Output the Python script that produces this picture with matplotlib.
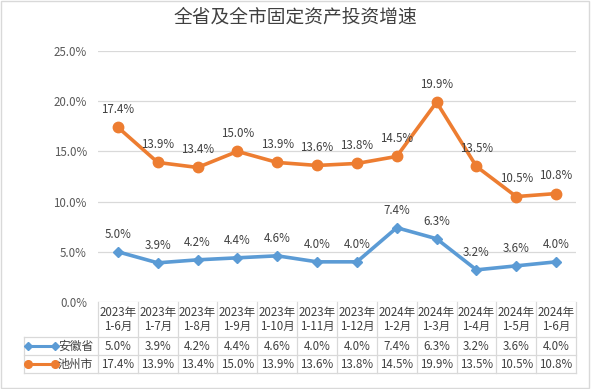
import matplotlib.pyplot as plt
from matplotlib.patches import Rectangle
from matplotlib.lines import Line2D

plt.rcParams['font.family'] = ['Noto Sans CJK SC', 'DejaVu Sans']

periods = ['2023年\n1-6月', '2023年\n1-7月', '2023年\n1-8月', '2023年\n1-9月',
           '2023年\n1-10月', '2023年\n1-11月', '2023年\n1-12月', '2024年\n1-2月',
           '2024年\n1-3月', '2024年\n1-4月', '2024年\n1-5月', '2024年\n1-6月']
anhui = [5.0, 3.9, 4.2, 4.4, 4.6, 4.0, 4.0, 7.4, 6.3, 3.2, 3.6, 4.0]
chizhou = [17.4, 13.9, 13.4, 15.0, 13.9, 13.6, 13.8, 14.5, 19.9, 13.5, 10.5, 10.8]
series_names = ['安徽省', '池州市']
yticks = [0, 5, 10, 15, 20, 25]

blue = '#5B9BD5'
orange = '#ED7D31'
grid_c = '#D9D9D9'
txt_c = '#404040'

W, H = 591, 389
fig = plt.figure(figsize=(W / 100, H / 100), dpi=100)
fig.patches.append(Rectangle((0.002, 0.002), 0.995, 0.995, transform=fig.transFigure,
                             fill=False, edgecolor='#D9D9D9', linewidth=1))

left, right, y0, y25 = 98, 576, 302, 51
ax = fig.add_axes([left / W, (H - y0) / H, (right - left) / W, (y0 - y25) / H])
ax_w, ax_h = right - left, y0 - y25

x = list(range(len(periods)))
ax.plot(x, anhui, color=blue, lw=2.6, marker='D', ms=5.5, zorder=3)
ax.plot(x, chizhou, color=orange, lw=2.6, marker='o', ms=7.5, zorder=3)

for i in x:
    ax.annotate(f'{anhui[i]:.1f}%', (i, anhui[i]), xytext=(0, 8), textcoords='offset points',
                ha='center', va='bottom', fontsize=8.3, color=txt_c)
    ax.annotate(f'{chizhou[i]:.1f}%', (i, chizhou[i]), xytext=(0, 8), textcoords='offset points',
                ha='center', va='bottom', fontsize=8.3, color=txt_c)

ax.set_xlim(-0.5, len(periods) - 0.5)
ax.set_ylim(0, 25)
ax.set_yticks(yticks)
ax.set_yticklabels([f'{v:.1f}%' for v in yticks], fontsize=8.3, color='#595959')
ax.set_xticks([])
ax.tick_params(axis='y', length=0, pad=8)
ax.grid(axis='y', color=grid_c, lw=0.9)
ax.set_axisbelow(True)
for s in ax.spines.values():
    s.set_visible(False)

# data table below the plot
def fy(py):
    return -(py - y0) / ax_h

def fx(px):
    return (px - left) / ax_w

tb = ax.get_xaxis_transform()
ta = ax.transAxes
rows_y = [fy(302), fy(337), fy(355), fy(373)]
lab_left = fx(24)

for i in range(len(periods) + 1):
    ax.add_line(Line2D([i - 0.5, i - 0.5], [rows_y[0], rows_y[3]], transform=tb,
                       color=grid_c, lw=0.9, clip_on=False))
for yy in rows_y[1:]:
    ax.add_line(Line2D([lab_left, 1], [yy, yy], transform=ta, color=grid_c, lw=0.9, clip_on=False))
ax.add_line(Line2D([lab_left, lab_left], [rows_y[1], rows_y[3]], transform=ta,
                   color=grid_c, lw=0.9, clip_on=False))

for i in x:
    ax.text(i, (rows_y[0] + rows_y[1]) / 2, periods[i], transform=tb, ha='center', va='center',
            fontsize=8.3, color=txt_c, linespacing=1.1)
    ax.text(i, (rows_y[1] + rows_y[2]) / 2, f'{anhui[i]:.1f}%', transform=tb, ha='center',
            va='center', fontsize=8.3, color=txt_c)
    ax.text(i, (rows_y[2] + rows_y[3]) / 2, f'{chizhou[i]:.1f}%', transform=tb, ha='center',
            va='center', fontsize=8.3, color=txt_c)

for k, (name, col, mk, ms) in enumerate(zip(series_names, [blue, orange], ['D', 'o'], [3.8, 5.5])):
    yy = (rows_y[k + 1] + rows_y[k + 2]) / 2
    ax.add_line(Line2D([fx(28), fx(55)], [yy, yy], transform=ta, color=col, lw=2.2,
                       marker=mk, ms=ms, clip_on=False))
    ax.text(fx(58), yy, name, transform=ta, ha='left', va='center', fontsize=8.5, color=txt_c)

fig.text(0.5, 1 - 17 / H, '全省及全市固定资产投资增速', ha='center', va='center',
         fontsize=13.5, color='#404040')

fig.savefig('out.png', dpi=100)
